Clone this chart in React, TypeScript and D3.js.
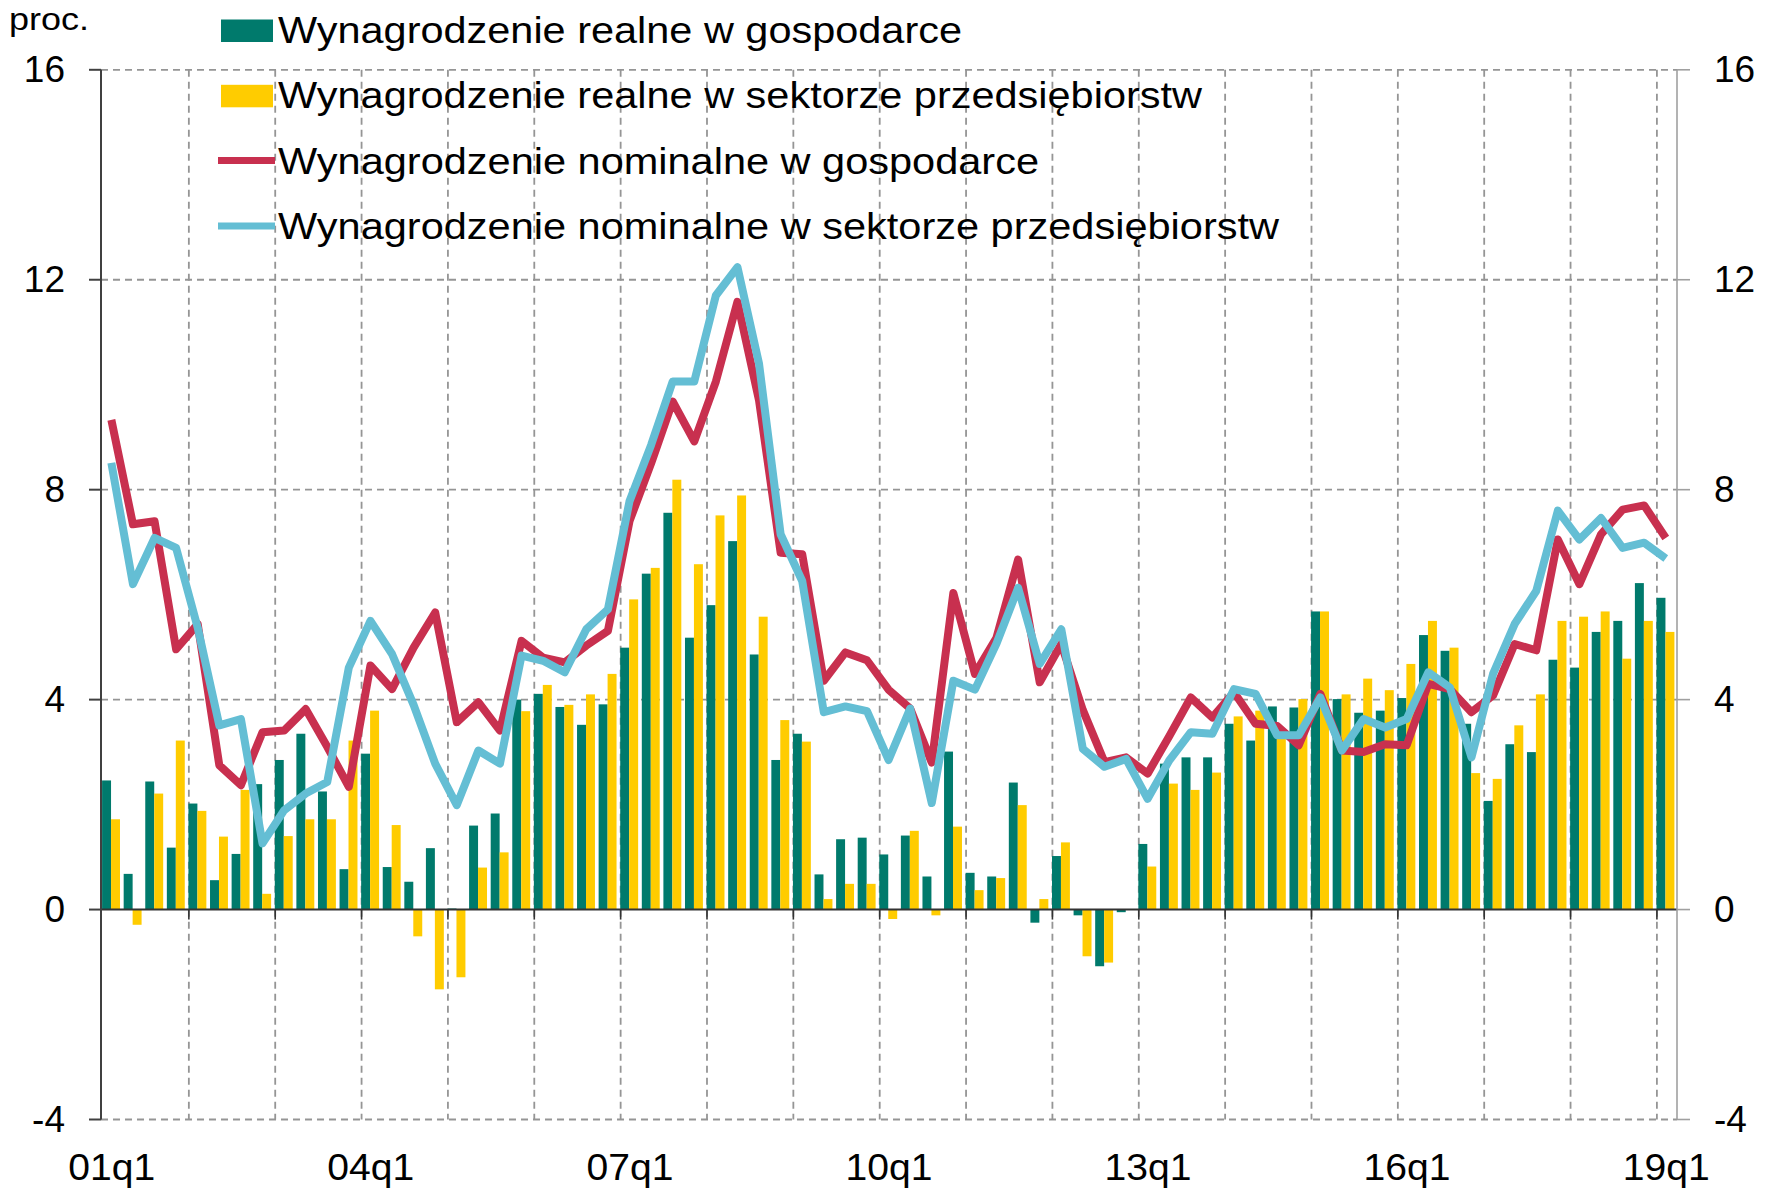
import React from "react";
import * as d3 from "d3";

// quarters 01q1 .. 19q1
const years = ["01", "02", "03", "04", "05", "06", "07", "08", "09", "10", "11", "12", "13", "14", "15", "16", "17", "18", "19"];
const quarters: string[] = years.flatMap((yy) => (yy === "19" ? [`${yy}q1`] : [1, 2, 3, 4].map((q) => `${yy}q${q}`)));

const xTickLabels = ["01q1", "04q1", "07q1", "10q1", "13q1", "16q1", "19q1"];
const yTicks = [-4, 0, 4, 8, 12, 16];

// Wynagrodzenie realne w gospodarce
const realEconomy = [
  2.46, 0.68, 2.44, 1.18, 2.02, 0.56, 1.06, 2.39, 2.85, 3.35, 2.25, 0.77, 2.97, 0.81, 0.53, 1.17, 0.02, 1.6, 1.83,
  4.0, 4.11, 3.86, 3.52, 3.91, 4.99, 6.4, 7.56, 5.18, 5.8, 7.02, 4.86, 2.85, 3.35, 0.67, 1.34, 1.37, 1.05, 1.41,
  0.63, 3.01, 0.7, 0.63, 2.42, -0.25, 1.02, -0.11, -1.08, -0.05, 1.25, 2.78, 2.9, 2.9, 3.54, 3.22, 3.87, 3.85,
  5.68, 4.01, 3.75, 3.79, 4.03, 5.23, 4.93, 3.54, 2.07, 3.15, 3.0, 4.76, 4.61, 5.29, 5.5, 6.22, 5.94,
];

// Wynagrodzenie realne w sektorze przedsiębiorstw
const realEnterprise = [
  1.72, -0.29, 2.21, 3.22, 1.88, 1.39, 2.28, 0.3, 1.4, 1.72, 1.72, 3.22, 3.79, 1.61, -0.51, -1.52, -1.29, 0.8, 1.09,
  3.78, 4.28, 3.9, 4.1, 4.49, 5.91, 6.51, 8.19, 6.58, 7.51, 7.89, 5.58, 3.61, 3.2, 0.2, 0.49, 0.49, -0.18, 1.5,
  -0.11, 1.58, 0.37, 0.6, 1.99, 0.2, 1.28, -0.89, -1.01, 0, 0.82, 2.4, 2.28, 2.61, 3.68, 3.79, 3.4, 4.01, 5.68,
  4.1, 4.4, 4.18, 4.68, 5.5, 4.99, 2.6, 2.49, 3.51, 4.1, 5.5, 5.58, 5.68, 4.78, 5.5, 5.29,
];

// Wynagrodzenie nominalne w gospodarce
const nominalEconomy = [
  9.33, 7.34, 7.4, 4.96, 5.44, 2.75, 2.37, 3.38, 3.41, 3.82, 3.1, 2.34, 4.65, 4.2, 4.99, 5.66, 3.57, 3.95, 3.41,
  5.12, 4.8, 4.71, 5.03, 5.31, 7.4, 8.5, 9.68, 8.92, 10.06, 11.58, 9.7, 6.8, 6.77, 4.36, 4.9, 4.75, 4.19, 3.83,
  2.8, 6.03, 4.49, 5.18, 6.67, 4.33, 5.06, 3.8, 2.81, 2.9, 2.59, 3.3, 4.04, 3.66, 4.14, 3.54, 3.5, 3.13, 4.11,
  3.03, 3.0, 3.15, 3.13, 4.3, 4.2, 3.76, 4.08, 5.06, 4.94, 7.05, 6.2, 7.15, 7.62, 7.7, 7.08,
];

// Wynagrodzenie nominalne w sektorze przedsiębiorstw
const nominalEnterprise = [
  8.51, 6.2, 7.08, 6.89, 5.37, 3.51, 3.63, 1.26, 1.89, 2.21, 2.43, 4.61, 5.5, 4.87, 3.9, 2.78, 1.99, 3.03, 2.78,
  4.84, 4.74, 4.52, 5.34, 5.72, 7.78, 8.85, 10.06, 10.06, 11.7, 12.24, 10.4, 7.15, 6.26, 3.76, 3.87, 3.78, 2.85,
  3.83, 2.03, 4.36, 4.19, 5.07, 6.13, 4.68, 5.34, 3.06, 2.72, 2.87, 2.11, 2.84, 3.38, 3.35, 4.2, 4.11, 3.32, 3.32,
  4.04, 3.03, 3.63, 3.47, 3.63, 4.52, 4.23, 2.9, 4.49, 5.44, 6.07, 7.6, 7.05, 7.46, 6.89, 6.99, 6.69,
];

const legendItems = [
  { label: "Wynagrodzenie realne w gospodarce", color: "#007A6C", kind: "rect", len: 684 },
  { label: "Wynagrodzenie realne w sektorze przedsiębiorstw", color: "#FFCC00", kind: "rect", len: 924 },
  { label: "Wynagrodzenie nominalne w gospodarce", color: "#C8304F", kind: "line", len: 761 },
  { label: "Wynagrodzenie nominalne w sektorze przedsiębiorstw", color: "#64BED4", kind: "line", len: 1001 },
];

const font = "'Liberation Sans', Arial, sans-serif";

const App = () => {
  const width = 1775;
  const height = 1191;
  const left = 101;
  const right = 1677;
  const top = 69.8;
  const bottom = 1119.5;

  const x = d3.scaleBand<string>().domain(quarters).range([left, right]).padding(0);
  const bw = x.bandwidth();
  const inner = d3.scaleBand<string>().domain(["a", "b"]).range([bw * 0.05, bw * 0.88]);
  const y = d3.scaleLinear().domain([-4, 16]).range([bottom, top]);

  const cx = (i: number) => (x(quarters[i]) as number) + bw * 0.48;
  const line = d3
    .line<number>()
    .x((_, i) => cx(i))
    .y((d) => y(d));

  const bar = (vals: number[], key: string, color: string) =>
    vals.map((v, i) => (
      <rect
        key={key + i}
        x={(x(quarters[i]) as number) + (inner(key) as number)}
        y={y(Math.max(0, v))}
        width={inner.bandwidth()}
        height={Math.abs(y(v) - y(0))}
        fill={color}
      />
    ));

  const yearBounds = quarters.filter((_, i) => i > 0 && i % 4 === 0).map((q) => (x(q) as number) + 1.5);
  const grid = "#959595";

  return (
    <div style={{ position: "absolute", left: 0, top: 0 }}>
      <svg width={width} height={height} style={{ display: "block", background: "#fff" }} fontFamily={font}>
        {/* grid */}
        {yTicks
          .filter((t) => t !== 0)
          .map((t) => (
            <line key={"hg" + t} x1={left} x2={right} y1={y(t)} y2={y(t)} stroke={grid} strokeWidth={1.8} strokeDasharray="7,5" />
          ))}
        {yearBounds.map((bx, i) => (
          <line key={"vg" + i} x1={bx} x2={bx} y1={y(16)} y2={y(-4)} stroke={grid} strokeWidth={1.8} strokeDasharray="7,5" />
        ))}

        {/* bars */}
        {bar(realEconomy, "a", "#007A6C")}
        {bar(realEnterprise, "b", "#FFCC00")}

        {/* axes */}
        <line x1={left} x2={right} y1={y(0)} y2={y(0)} stroke="#333" strokeWidth={2} />
        {yearBounds.map((bx, i) => (
          <line key={"xt" + i} x1={bx} x2={bx} y1={y(0)} y2={y(0) + 10} stroke="#333" strokeWidth={1.6} />
        ))}
        <line x1={left} x2={left} y1={y(16)} y2={y(-4)} stroke="#404040" strokeWidth={2} />
        <line x1={right} x2={right} y1={y(16)} y2={y(-4)} stroke="#a0a0a0" strokeWidth={1.6} />
        {yTicks.map((t) => (
          <g key={"yt" + t}>
            <line x1={left - 12} x2={left} y1={y(t)} y2={y(t)} stroke="#404040" strokeWidth={2} />
            <line x1={right} x2={right + 13} y1={y(t)} y2={y(t)} stroke="#a0a0a0" strokeWidth={1.6} />
            <text x={65} y={y(t)} dy="0.33em" textAnchor="end" fontSize={37} fill="#000">
              {t}
            </text>
            <text x={1714} y={y(t)} dy="0.33em" textAnchor="start" fontSize={37} fill="#000">
              {t}
            </text>
          </g>
        ))}
        {xTickLabels.map((l) => (
          <text
            key={l}
            x={(x(l) as number) + bw / 2 - 43.5}
            y={1180}
            fontSize={37}
            textLength={87}
            lengthAdjust="spacingAndGlyphs"
            fill="#000"
          >
            {l}
          </text>
        ))}
        <text x={9} y={30} fontSize={31} textLength={80} lengthAdjust="spacingAndGlyphs" fill="#000">
          proc.
        </text>

        {/* lines */}
        <path d={line(nominalEconomy) as string} fill="none" stroke="#C8304F" strokeWidth={8} strokeLinejoin="round" />
        <path d={line(nominalEnterprise) as string} fill="none" stroke="#64BED4" strokeWidth={8} strokeLinejoin="round" />

        {/* legend */}
        {legendItems.map((it, i) => {
          const base = 43 + i * 65.3;
          return (
            <g key={it.label}>
              {it.kind === "rect" ? (
                <rect x={221} y={base - 23.5} width={52} height={22.5} fill={it.color} />
              ) : (
                <line x1={218} x2={275} y1={base - 13} y2={base - 13} stroke={it.color} strokeWidth={7} />
              )}
              <text x={278} y={base} fontSize={37} textLength={it.len} lengthAdjust="spacingAndGlyphs" fill="#000">
                {it.label}
              </text>
            </g>
          );
        })}
      </svg>
    </div>
  );
};

export default App;
